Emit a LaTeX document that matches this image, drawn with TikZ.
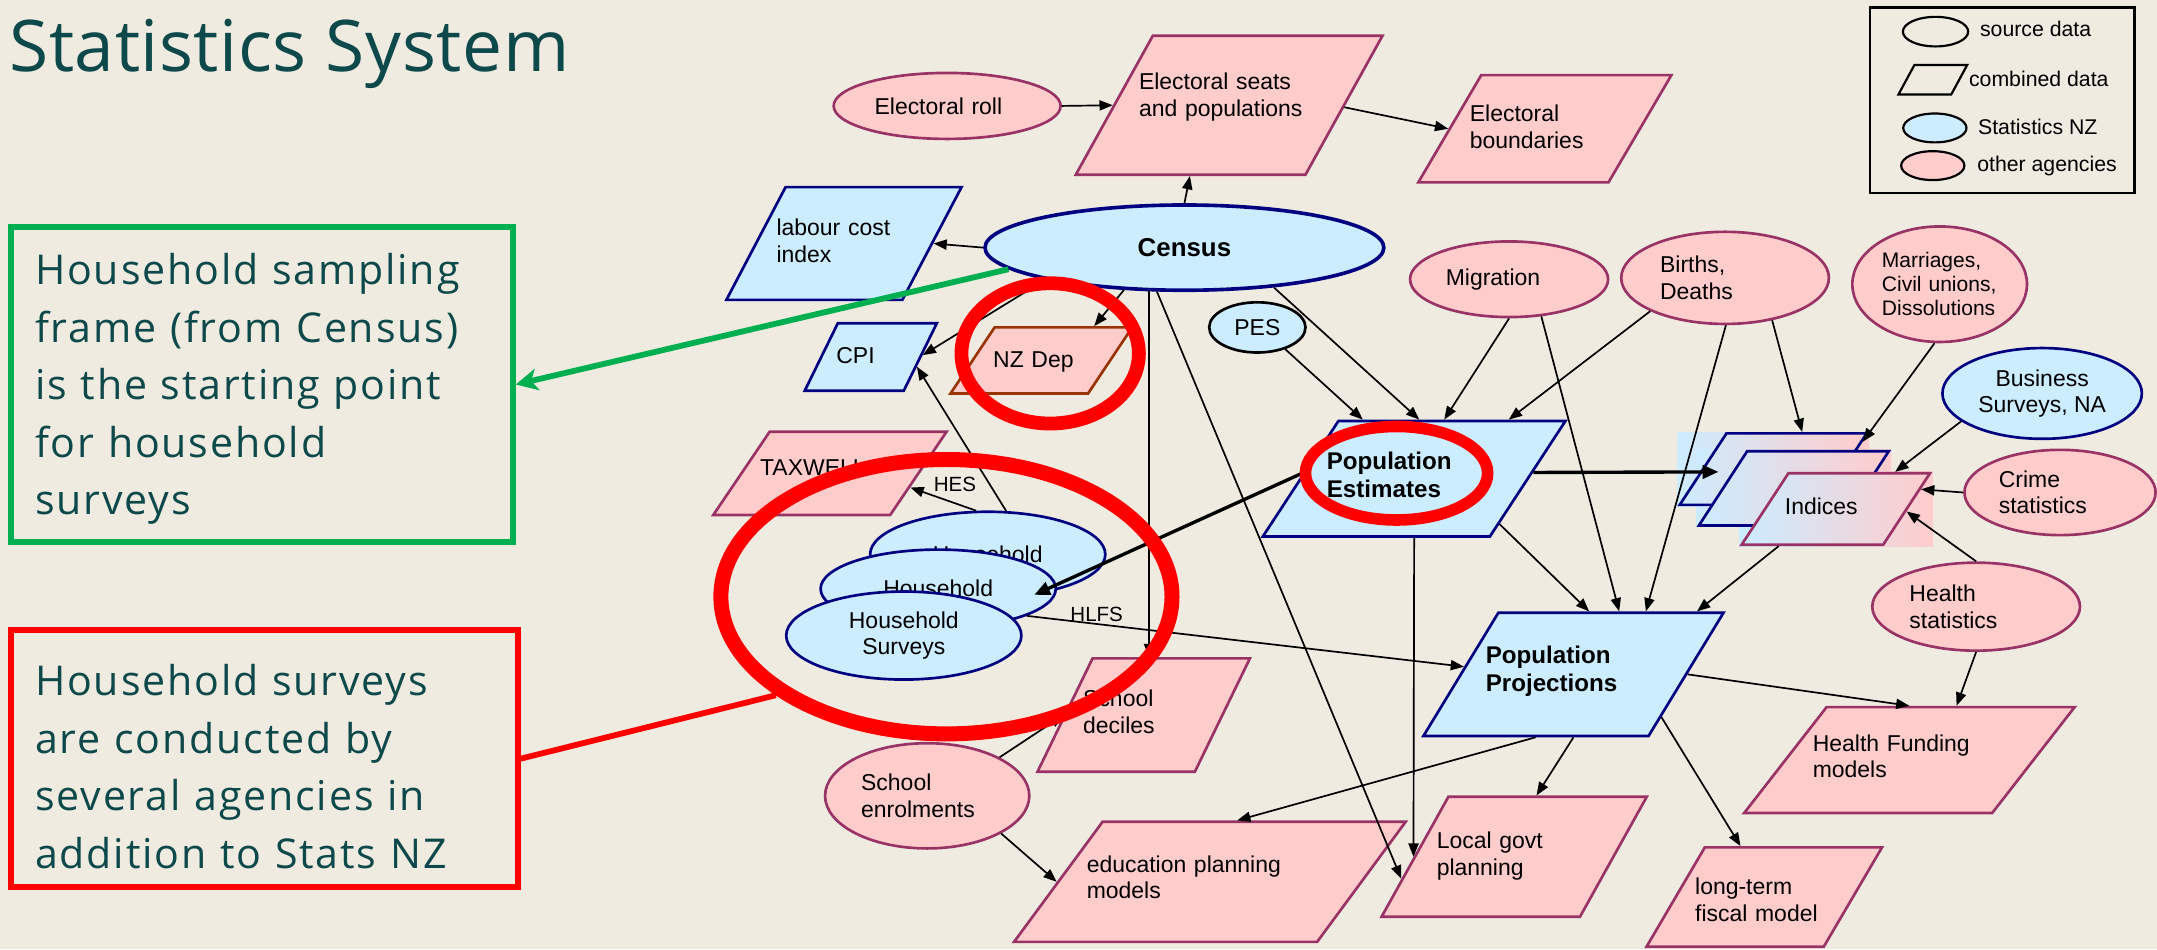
\documentclass[tikz,border=0pt]{standalone}
\usepackage{fontspec}
\setmainfont{Liberation Sans}
\newfontfamily\annfont[LetterSpace=4.5]{Open Sans}
\newfontfamily\titlefont[LetterSpace=0.8]{Open Sans}
\usetikzlibrary{shapes.geometric,arrows.meta}

\definecolor{paper}{RGB}{239,235,224}
\definecolor{snblue}{RGB}{204,236,255}
\definecolor{snnavy}{RGB}{0,0,128}
\definecolor{oapink}{RGB}{255,204,204}
\definecolor{oaline}{RGB}{153,51,102}
\definecolor{depline}{RGB}{153,51,0}
\definecolor{ink}{RGB}{13,73,74}
\definecolor{callgreen}{RGB}{0,176,80}
\definecolor{callred}{RGB}{255,0,0}

\pgfdeclarelayer{paper}
\pgfdeclarelayer{shade}
\pgfsetlayers{paper,shade,main}

\tikzset{
  dtext/.style={font=\fontsize{9.5}{11}\selectfont},
  ell/.style={ellipse, draw, inner sep=0pt, line width=1.1pt, dtext},
  % parallelogram: size follows from text box (width, height, depth) and inner xsep
  dpara/.style 2 args={trapezium, trapezium left angle=#1, trapezium right angle=#2,
    draw, inner ysep=0pt, line width=1.1pt, align=left, dtext},
  sn/.style={fill=snblue, draw=snnavy},
  oa/.style={fill=oapink, draw=oaline},
  idxfill/.style={left color=snblue, right color=oapink},
  boldtext/.style={font=\fontsize{10}{11.5}\selectfont\bfseries},
  arr/.style={line width=0.7pt, -{Triangle[length=5.5pt,width=4.2pt]}},
  thickarr/.style={line width=1.4pt, -{Triangle[length=6.5pt,width=5.5pt]}},
  lbl/.style={font=\fontsize{8.5}{10}\selectfont, inner sep=0.5pt},
  keytext/.style={font=\fontsize{8.8}{10}\selectfont, anchor=west, inner sep=0pt},
  ring/.style={ellipse, draw=callred, inner sep=0pt},
  callout/.style={align=left, text=ink, font=\annfont\fontsize{17}{23.8}\selectfont}
}

\begin{document}
\begin{tikzpicture}[x=0.02cm, y=-0.02cm]
\useasboundingbox (0,0) rectangle (1568,690);
\begin{pgfonlayer}{paper}
  \fill[paper] (0,0) rectangle (1568,690);
\end{pgfonlayer}

% ---------- legend ----------
\draw[line width=1pt] (1359.5,5.3) rectangle (1551.5,140.5);
\node[ell, draw=black, line width=0.9pt, minimum width=0.95cm, minimum height=0.43cm] (keysrc) at (1407,23) {};
\node[dpara={61.6}{118.4}, draw=black, line width=0.9pt, text height=0.215cm, text depth=0.215cm, inner xsep=0.2675cm] (keycomb) at (1405,58) {};
\node[ell, fill=snblue, draw=black, line width=0.9pt, minimum width=0.92cm, minimum height=0.42cm] (keysn) at (1406.5,93) {};
\node[ell, fill=oapink, draw=black, line width=0.9pt, minimum width=0.92cm, minimum height=0.42cm] (keyoa) at (1405,120.4) {};
\node[keytext] (keysrct) at (1439,21.3) {source data};
\node[keytext] (keycombt) at (1431,57.7) {combined data};
\node[keytext] (keysnt) at (1437.6,92) {Statistics NZ};
\node[keytext] (keyoat) at (1437,120.4) {other agencies};

% ---------- source data ----------
\node[ell, sn, line width=1.5pt, minimum width=5.80cm, minimum height=1.24cm,
      font=\fontsize{10.7}{12}\selectfont\bfseries] (census) at (861,180) {Census};
\node[ell, oa, minimum width=3.30cm, minimum height=0.96cm, text width=2.11cm, align=left] (roll) at (688.5,77) {Electoral roll};
\node[ell, fill=snblue, draw=black, minimum width=1.40cm, minimum height=0.73cm] (pes) at (914,238) {PES};
\node[ell, oa, minimum width=2.88cm, minimum height=1.10cm, text width=1.84cm, align=left] (migr) at (1097,203) {Migration};
\node[ell, oa, minimum width=3.02cm, minimum height=1.34cm, text width=1.89cm, align=left] (births) at (1254,202) {Births,\\Deaths};
\node[ell, oa, minimum width=2.54cm, minimum height=1.68cm, text width=1.68cm, align=left,
      font=\fontsize{8.7}{10}\selectfont] (marr) at (1410,206.6) {Marriages,\\Civil unions,\\Dissolutions};
\node[ell, sn, minimum width=2.90cm, minimum height=1.32cm, align=center] (bus) at (1484.5,286) {Business\\Surveys, NA};
\node[ell, oa, minimum width=2.78cm, minimum height=1.24cm, text width=1.78cm, align=left] (crime) at (1497.5,358) {Crime\\statistics};
\node[ell, oa, minimum width=3.02cm, minimum height=1.28cm, text width=1.94cm, align=left] (hstat) at (1436.5,441) {Health\\statistics};
\node[ell, oa, minimum width=2.97cm, minimum height=1.53cm, text width=1.92cm, align=left] (enrol) at (674,578.5) {School\\enrolments};
\node[ell, sn, minimum width=3.42cm, minimum height=1.24cm] (hhA) at (718,403) {Household};
\node[ell, sn, minimum width=3.42cm, minimum height=1.14cm] (hhB) at (682,428) {Household};
\node[ell, sn, minimum width=3.42cm, minimum height=1.28cm, align=center] (hhC) at (657,462) {Household\\Surveys};

% ---------- combined data ----------
\node[dpara={61}{119}, oa, text width=2.62cm, inner xsep=-0.20cm, text height=0.788cm, text depth=1.232cm] (seats) at (893.5,76.5) {Electoral seats\\and populations};
\node[dpara={59.6}{120.4}, oa, text width=2.18cm, inner xsep=-0.165cm, text height=0.678cm, text depth=0.882cm] (bound) at (1123,93.6) {Electoral\\boundaries};
\node[dpara={62.3}{117.7}, sn, text width=1.96cm, inner xsep=-0.131cm, text height=0.71cm, text depth=0.93cm] (lci) at (613.5,177) {labour cost\\index};
\node[dpara={63.9}{116.1}, sn, text width=1.0cm, inner xsep=-0.02cm, text height=0.58cm, text depth=0.40cm] (cpi) at (633,259.5) {CPI};
\node[dpara={56.3}{123.7}, fill=oapink, draw=depline, text width=1.4cm, inner xsep=-0.02cm, text height=0.59cm, text depth=0.37cm] (nzdep) at (757,262) {NZ Dep};
\node[dpara={55.9}{124.1}, oa, text width=2.03cm, inner xsep=-0.139cm, text height=0.63cm, text depth=0.582cm] (taxwell) at (603.3,344.1) {TAXWELL};
\node[dpara={56.8}{123.2}, sn, boldtext, text width=2.54cm, inner xsep=-0.169cm, text height=0.71cm, text depth=0.97cm] (popest) at (1028,348) {Population\\Estimates};
\node[dpara={58.7}{121.3}, sn, boldtext, text width=2.55cm, inner xsep=-0.183cm, text height=0.742cm, text depth=1.05cm] (popproj) at (1143.8,490.2) {Population\\Projections};
\node[dpara={56.8}{123.2}, draw=snnavy, idxfill, inner xsep=0.679cm, text height=0.52cm, text depth=0.52cm] (idx1) at (1289,341) {};
\node[dpara={57}{123}, draw=snnavy, idxfill, inner xsep=0.679cm, text height=0.54cm, text depth=0.54cm] (idx2) at (1304,355) {};
\node[dpara={56.8}{123.2}, draw=oaline, idxfill, text width=1.48cm, inner xsep=-0.051cm, text height=0.60cm, text depth=0.44cm] (idx3) at (1334.5,370) {Indices};
\node[dpara={52.1}{127.9}, oa, text width=2.81cm, inner xsep=-0.201cm, text height=0.64cm, text depth=0.90cm] (hfund) at (1388,552.5) {Health Funding\\models};
\node[dpara={53.6}{126.4}, oa, text width=3.58cm, inner xsep=-0.23cm, text height=0.733cm, text depth=1.013cm] (edu) at (879.5,641) {education planning\\models};
\node[dpara={60.9}{119.1}, oa, text width=2.25cm, inner xsep=-0.168cm, text height=0.756cm, text depth=0.988cm] (local) at (1100.7,622.8) {Local govt\\planning};
\node[dpara={59.6}{120.4}, oa, text width=2.01cm, inner xsep=-0.14cm, text height=0.69cm, text depth=0.754cm] (fiscal) at (1282.5,652.1) {long-term\\fiscal model};
\node[dpara={64.1}{115.9}, oa, text width=1.76cm, inner xsep=-0.136cm, text height=0.702cm, text depth=0.946cm] (deciles) at (831.4,519.8) {School\\deciles};

% shaded frames behind the stacked index shapes
\begin{pgfonlayer}{shade}
  \foreach \s in {idx1,idx2,idx3}
    \shade[idxfill] (\s.bottom left corner |- \s.top right corner) rectangle (\s.top right corner |- \s.bottom left corner);
\end{pgfonlayer}

% ---------- flows ----------
\draw[arr] (roll.east) -- (seats.180);
\draw[arr] (seats.359) -- (bound.180);
\draw[arr] (census.north) -- (seats.241);
\draw[arr] (census.west) -- (lci.0);
\draw[arr] (census.193) -- (cpi.2);
\draw[arr] (census.215) -- (nzdep.33);
\draw[arr] (hhA.67) -- (cpi.348);
\draw[arr] (census.231) -- (census.231 |- deciles.north);
\draw[arr] (census.238) -- (local.191);
\draw[arr] (census.336) -- (popest.85);
\draw[arr] (pes.322) -- (popest.131);
\draw[arr] (migr.south) -- (popest.63);
\draw[arr] (migr.311) -- (popproj.54);
\draw[arr] (births.204) -- (popest.32);
\draw[arr] (births.271) -- (popproj.41);
\draw[arr] (births.318) -- (idx1.52);
\draw[arr] (marr.265) -- (idx1.17);
\draw[arr] (bus.199) -- (idx3.32);
\draw[arr] (crime.west) -- (idx3.13);
\draw[arr] (hstat.north) -- (idx3.358);
\draw[thickarr, shorten >=0.2cm] (popest.3) -- (idx2.165);
\draw[arr] (idx3.213) -- (popproj.27);
\draw[arr] (popest.332) -- (popproj.76);
\draw[arr] (popest.270) -- (local.180);
\draw[arr] (hhB.343) -- node[lbl, pos=0.16, above] (hlfs) {HLFS} (popproj.176);
\draw[arr] (hhA.105) -- node[lbl, pos=0.32, above=4pt] (hes) {HES} (taxwell.350);
\draw[thickarr] (popest.177) -- (hhA.319);
\draw[arr] (popproj.0) -- (hfund.north);
\draw[arr] (hstat.south) -- (hfund.49);
\draw[arr] (popproj.334) -- (fiscal.115);
\draw[arr] (popproj.270) -- (local.70);
\draw[arr] (popproj.239) -- (edu.66);
\draw[arr] (enrol.333) -- (edu.180);
\draw[arr] (enrol.28) -- (deciles.180);

% ---------- title and callouts ----------
\node[anchor=base west, inner sep=0pt, text=ink, font=\titlefont\fontsize{29.5}{34}\selectfont] (title) at (6.5,52) {Statistics System};

\node[callout, draw=callgreen, line width=2.3pt, minimum width=7.3cm, minimum height=4.58cm,
      text width=6.6cm, inner xsep=0.35cm] (gbox) at (190.5,279.5)
  {\rule{0pt}{16.8pt}Household sampling\\frame (from Census)\\is the starting point\\for household\\surveys};
\node[callout, draw=callred, line width=2.3pt, minimum width=7.37cm, minimum height=3.74cm,
      text width=6.67cm, inner xsep=0.35cm] (rbox) at (192.25,551.5)
  {\rule{0pt}{19.4pt}Household surveys\\are conducted by\\several agencies in\\addition to Stats NZ};

\node[ring, line width=6.2pt, minimum width=6.56cm, minimum height=3.99cm] (hhring) at (688,433.75) {};
\node[ring, line width=5.7pt, minimum width=2.58cm, minimum height=2.04cm] (depring) at (763.4,256.9) {};
\node[ring, line width=4.8pt, minimum width=2.65cm, minimum height=1.36cm] (pering) at (1015.2,344) {};

\draw[callgreen, line width=2.4pt, -{Stealth[length=9pt,width=9pt,inset=2.5pt]}] (census.187) -- (gbox.east);
\draw[callred, line width=2.4pt] (rbox.east) -- (hhring.210);
\end{tikzpicture}
\end{document}
